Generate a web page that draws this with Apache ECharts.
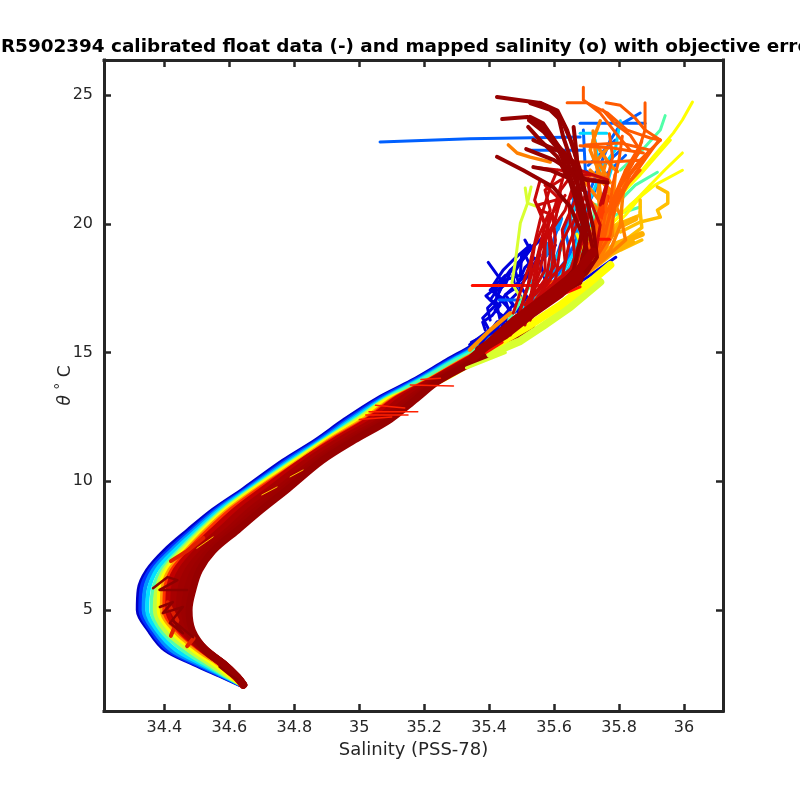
<!DOCTYPE html>
<html>
<head>
<meta charset="utf-8">
<title>R5902394 theta-S</title>
<script src="https://cdn.jsdelivr.net/npm/echarts@6/dist/echarts.min.js"></script>
<style>
  html, body { margin: 0; padding: 0; background: #fff; }
  #main { width: 800px; height: 800px; }
</style>
</head>
<body>
<div id="main"></div>
<script>
// Tick labels
var salTicks = [34.4, 34.6, 34.8, 35, 35.2, 35.4, 35.6, 35.8, 36];
var thetaTicks = [5, 10, 15, 20, 25];

// Lower water column: shared theta levels, one salinity list per profile colour
var thetaLevels = [2.1, 2.4, 2.9, 3.45, 4.2, 5, 5.8, 6.55, 7.3, 8.1, 8.9, 9.7, 10.8, 11.6, 12.4, 13.2, 13.9, 14.7, 15.3, 15.9];
var salNavy = [34.63, 34.578, 34.49, 34.402, 34.352, 34.318, 34.321, 34.347, 34.399, 34.472, 34.55, 34.643, 34.765, 34.866, 34.955, 35.054, 35.161, 35.269, 35.352, 35.415];
var salBlue = [34.632, 34.582, 34.497, 34.41, 34.359, 34.326, 34.329, 34.355, 34.41, 34.482, 34.558, 34.651, 34.774, 34.874, 34.964, 35.062, 35.168, 35.277, 35.362, 35.43];
var salSky = [34.634, 34.586, 34.505, 34.42, 34.368, 34.336, 34.34, 34.365, 34.42, 34.49, 34.565, 34.656, 34.782, 34.881, 34.972, 35.07, 35.175, 35.285, 35.372, 35.44];
var salCyan = [34.636, 34.59, 34.515, 34.435, 34.378, 34.347, 34.352, 34.376, 34.43, 34.499, 34.572, 34.662, 34.79, 34.887, 34.98, 35.076, 35.181, 35.29, 35.38, 35.448];
var salMint = [34.637, 34.594, 34.525, 34.455, 34.39, 34.36, 34.365, 34.39, 34.443, 34.508, 34.58, 34.668, 34.796, 34.892, 34.988, 35.082, 35.187, 35.297, 35.39, 35.46];
var salLime = [34.638, 34.6, 34.54, 34.475, 34.403, 34.372, 34.377, 34.4, 34.452, 34.516, 34.587, 34.674, 34.803, 34.897, 34.996, 35.088, 35.24, 35.36, 35.46, 35.53];
var salYellow = [34.639, 34.606, 34.555, 34.49, 34.42, 34.384, 34.386, 34.408, 34.46, 34.522, 34.592, 34.679, 34.808, 34.902, 35.004, 35.094, 35.25, 35.365, 35.47, 35.55];
var salAmber = [34.64, 34.61, 34.565, 34.5, 34.43, 34.392, 34.394, 34.415, 34.466, 34.527, 34.597, 34.684, 34.814, 34.906, 35.012, 35.1, 35.205, 35.315, 35.4, 35.47];
var salRed = [34.64, 34.614, 34.57, 34.51, 34.44, 34.4, 34.402, 34.423, 34.472, 34.534, 34.604, 34.69, 34.82, 34.912, 35.02, 35.105, 35.21, 35.32, 35.41, 35.48];
var salCrimson = [34.641, 34.62, 34.578, 34.518, 34.45, 34.412, 34.414, 34.435, 34.485, 34.55, 34.62, 34.705, 34.825, 34.925, 35.03, 35.115, 35.218, 35.328, 35.42, 35.49];
var salMaroon1 = [34.642, 34.622, 34.58, 34.524, 34.462, 34.43, 34.432, 34.455, 34.505, 34.575, 34.645, 34.73, 34.845, 34.945, 35.055, 35.135, 35.228, 35.34, 35.432, 35.505];
var salMaroon2 = [34.643, 34.624, 34.582, 34.526, 34.472, 34.448, 34.452, 34.475, 34.525, 34.6, 34.67, 34.755, 34.865, 34.965, 35.075, 35.155, 35.238, 35.35, 35.445, 35.52];
var salMaroon4 = [34.644, 34.625, 34.584, 34.527, 34.48, 34.462, 34.47, 34.492, 34.538, 34.612, 34.685, 34.768, 34.875, 34.975, 35.085, 35.165, 35.242, 35.355, 35.452, 35.528];
var salMaroon3 = [34.644, 34.625, 34.584, 34.527, 34.486, 34.476, 34.488, 34.508, 34.55, 34.625, 34.7, 34.78, 34.885, 34.985, 35.095, 35.175, 35.245, 35.362, 35.46, 35.535];

// Upper water column: [salinity, theta] pairs for each profile, grouped by colour
var navyTails = [
  [[35.34, 15.3], [35.4, 15.87], [35.38, 16.34], [35.42, 16.84], [35.39, 17.2], [35.43, 17.6], [35.465, 18.2], [35.5, 18.6]],
  [[35.397, 18.5], [35.443, 17.7], [35.42, 17.04], [35.434, 16.26], [35.4, 15.7]],
  [[35.434, 15.87], [35.465, 16.65], [35.425, 17.2], [35.45, 17.82], [35.496, 18], [35.5, 18.8], [35.54, 19.2]],
  [[35.45, 15.7], [35.496, 16.45], [35.465, 17.04], [35.496, 17.43], [35.48, 18.2], [35.526, 19], [35.51, 19.37]],
  [[35.372, 15.3], [35.425, 16.2], [35.47, 16.26], [35.45, 17.04], [35.403, 17.43], [35.45, 18]],
  [[35.48, 16.05], [35.51, 16.85], [35.48, 17.6], [35.526, 18.2], [35.557, 18.8]],
  [[35.65, 17.5], [35.711, 18], [35.79, 18.7]],
  [[35.388, 15.87], [35.38, 16.18], [35.41, 16.45], [35.434, 16.84], [35.403, 17.04], [35.425, 17.43], [35.45, 17.63], [35.465, 18.13], [35.51, 18.8]],
  [[35.418, 15.87], [35.45, 16.34], [35.418, 16.65], [35.45, 17.24], [35.48, 17.5], [35.473, 18], [35.496, 18.5], [35.526, 18.98]],
  [[35.434, 16.26], [35.473, 16.84], [35.45, 17.24], [35.49, 17.7], [35.51, 18.3], [35.54, 18.67]],
  [[35.403, 16.26], [35.395, 16.73], [35.425, 17.11], [35.413, 17.63], [35.443, 18.2], [35.48, 18.67], [35.526, 19.17]],
  [[35.48, 16.57], [35.517, 17.15], [35.496, 17.6], [35.533, 18.2], [35.51, 18.8], [35.572, 19.56]],
  [[35.51, 16.18], [35.54, 17.04], [35.572, 17.82], [35.557, 18.5], [35.604, 19.17]],
  [[35.345, 15.4], [35.372, 15.57], [35.418, 15.8], [35.465, 16.18]]
];
var skyTails = [
  [[35.064, 23.18], [35.34, 23.3], [35.68, 23.37]],
  [[35.68, 23.9], [35.88, 23.9]],
  [[35.526, 22.86], [35.69, 22.86]],
  [[35.865, 24.3], [35.804, 23.85], [35.773, 23.25], [35.742, 22.27], [35.711, 21.31], [35.65, 20.34], [35.604, 18.6], [35.557, 17.43], [35.526, 16.65]],
  [[35.69, 23.64], [35.696, 22.08], [35.742, 21.7], [35.711, 20.92], [35.68, 19.76], [35.634, 18.4], [35.57, 17.24]],
  [[35.705, 22.27], [35.788, 23.25]],
  [[35.72, 21.9], [35.805, 22.86]],
  [[35.742, 21.7], [35.82, 22.66]],
  [[35.665, 21.1], [35.634, 19.76], [35.65, 18.8], [35.588, 17.82], [35.572, 17.04]],
  [[35.62, 20.15], [35.588, 19], [35.6, 18.2], [35.54, 17.24]],
  [[35.43, 17.04], [35.496, 17.04]]
];
var skyPatches = [
  [[35.66, 20.1], [35.67, 19.5]],
  [[35.597, 18.6], [35.597, 18.1]],
  [[35.54, 17.3], [35.53, 16.9]],
  [[35.58, 19.2], [35.575, 18.8]],
  [[35.61, 19.8], [35.62, 20.2]],
  [[35.665, 21.3], [35.66, 21]]
];
var cyanTails = [
  [[35.68, 23.52], [35.762, 23.52]],
  [[35.726, 23.25], [35.742, 21.9], [35.696, 20.53], [35.665, 18.98], [35.604, 17.63]],
  [[35.78, 22.27], [35.757, 21.31], [35.711, 19.95], [35.65, 18.4], [35.588, 17.04]],
  [[35.804, 24], [35.788, 22.86], [35.742, 22.08]],
  [[35.526, 17.82], [35.54, 17.43], [35.5, 16.65]],
  [[35.665, 20.73], [35.62, 18.98], [35.57, 18]]
];
var mintTails = [
  [[35.942, 24.2], [35.927, 23.64], [35.865, 22.78], [35.804, 22.08]],
  [[35.918, 22], [35.85, 21.5], [35.804, 20.92], [35.742, 20.38]],
  [[35.865, 20.65], [35.788, 20.34], [35.742, 19.76], [35.711, 19.17]],
  [[35.742, 20.92], [35.73, 20.34], [35.72, 19.56], [35.67, 18.67]],
  [[35.526, 17.6], [35.5, 17.04], [35.46, 16.26]]
];
var mintPatches = [
  [[35.725, 20.7], [35.73, 20.2]]
];
var limeThin = [
  [[35.496, 17.15], [35.47, 17.7], [35.48, 18.48], [35.496, 20.03], [35.518, 20.8], [35.511, 21.39]],
  [[35.529, 21.43], [35.518, 20.8], [35.552, 20.65]],
  [[35.33, 14.4], [35.45, 15]]
];
var limeBody = [
  [[35.403, 14.95], [35.496, 15.45], [35.566, 16.03], [35.65, 16.77], [35.742, 17.74]]
];
var yellowBody = [
  [[35.434, 15.4], [35.526, 16.07], [35.62, 16.84], [35.711, 17.74], [35.773, 18.4]]
];
var yellowTails = [
  [[36.026, 24.73], [35.995, 24.03], [35.967, 23.52], [35.896, 22.47], [35.82, 21.31], [35.742, 19.95], [35.68, 18.98]],
  [[35.995, 22.75], [35.94, 22.08], [35.865, 21.1], [35.773, 19.95], [35.711, 18.98]],
  [[35.995, 22.08], [35.91, 21.5], [35.834, 20.73], [35.757, 19.76], [35.695, 18.8]],
  [[35.958, 23.25], [35.865, 21.9], [35.773, 20.73], [35.711, 19.76]],
  [[35.896, 21.5], [35.82, 20.34], [35.742, 19.37], [35.68, 18.4], [35.604, 17.43], [35.526, 16.65]]
];
var yellowSpecks = [
  [[35.67, 19.6], [35.68, 19.3]],
  [[35.625, 19.4], [35.63, 19]],
  [[35.71, 19.2], [35.715, 18.9]]
];
var amberTails = [
  [[35.918, 21.43], [35.95, 21.2], [35.95, 20.8], [35.918, 20.53], [35.927, 20.26], [35.865, 20.07], [35.804, 19.68]],
  [[35.865, 20.92], [35.865, 20.34], [35.788, 19.95], [35.742, 19.37]],
  [[35.865, 20.45], [35.87, 19.85], [35.82, 19.37], [35.757, 18.98], [35.711, 18.52]],
  [[35.87, 19.37], [35.804, 18.98], [35.757, 18.67]]
];
var amberBody = [
  [[35.87, 19.6], [35.79, 19.2], [35.72, 18.5], [35.64, 17.8], [35.55, 17.1]],
  [[35.85, 20.2], [35.8, 19.9], [35.75, 19.2]],
  [[35.84, 19.3], [35.78, 18.9], [35.72, 18.3], [35.65, 17.65]]
];
var orangeBody = [
  [[35.8, 21.2], [35.77, 20.3], [35.755, 19.4], [35.7, 18.3], [35.6, 17.4]]
];
var orangeEdge = [
  [[35.34, 15.1], [35.403, 15.87], [35.465, 16.53]]
];
var orangeTails = [
  [[35.459, 23.06], [35.486, 22.75], [35.526, 22.59], [35.588, 22.4]],
  [[35.726, 23.45], [35.711, 22.86], [35.742, 21.9], [35.773, 21.1], [35.804, 20.34], [35.82, 19.37], [35.742, 18.5], [35.65, 17.6]],
  [[35.82, 22.08], [35.81, 20.92], [35.804, 19.95], [35.773, 18.98], [35.711, 18.2], [35.62, 17.24]],
  [[35.788, 21.9], [35.78, 20.73], [35.78, 19.56], [35.742, 18.67], [35.665, 17.82]],
  [[35.757, 22.27], [35.735, 21.31], [35.742, 20.34], [35.73, 19.17], [35.68, 18.2], [35.588, 17.24]],
  [[35.69, 21.7], [35.75, 20.73]],
  [[35.696, 21.1], [35.75, 20.34], [35.742, 19.56]],
  [[35.711, 22.08], [35.773, 21.31]],
  [[35.742, 24], [35.72, 23.25], [35.773, 22.27], [35.795, 22.03]],
  [[35.767, 22.98], [35.733, 22.47], [35.773, 21.6]],
  [[35.75, 20.4], [35.74, 21.4], [35.73, 22.4], [35.72, 23.6]]
];
var flameBody = [
  [[35.76, 21], [35.735, 20.1], [35.72, 19.3], [35.66, 18.1], [35.56, 17.2]]
];
var flameTails = [
  [[35.69, 25.3], [35.69, 24.81], [35.742, 24.3], [35.79, 23.52], [35.834, 22.86]],
  [[35.64, 24.7], [35.7, 24.7], [35.765, 24.3], [35.825, 23.64], [35.896, 23.33], [35.927, 23.25]],
  [[35.76, 24.7], [35.804, 24.6], [35.85, 24.1], [35.88, 23.64], [35.927, 23.25]],
  [[35.75, 24.42], [35.79, 23.85], [35.834, 23.45], [35.865, 22.86], [35.82, 21.9], [35.773, 20.53]],
  [[35.88, 24.7], [35.88, 23.64], [35.865, 23.06], [35.82, 22.08], [35.78, 20.92], [35.757, 19.56], [35.711, 18.4]],
  [[35.696, 23.06], [35.804, 23.14], [35.896, 22.86]],
  [[35.62, 22.4], [35.773, 22.4], [35.865, 22.47]],
  [[35.927, 23.25], [35.865, 22.47], [35.804, 21.5], [35.757, 20.34], [35.742, 19.17], [35.68, 18]],
  [[35.896, 22.86], [35.834, 21.9], [35.788, 20.73], [35.773, 19.56], [35.711, 18.3]],
  [[35.865, 22.08], [35.81, 21.31], [35.773, 20.34], [35.735, 18.98], [35.665, 18]],
  [[35.742, 20.15], [35.711, 19.17], [35.65, 18.2], [35.557, 17.43]],
  [[35.68, 23.03], [35.78, 22.94], [35.875, 22.75]],
  [[35.69, 21.9], [35.765, 21.78]],
  [[35.78, 20.6], [35.8, 21.4], [35.84, 22.3], [35.87, 23.2]],
  [[35.79, 20.7], [35.83, 21.6], [35.88, 22.5], [35.92, 23.2]],
  [[35.77, 20.5], [35.78, 21.5], [35.8, 22.5], [35.81, 23.4]],
  [[35.76, 20.5], [35.76, 21.5], [35.78, 22.6], [35.77, 23.5]]
];
var redTails = [
  [[35.348, 17.6], [35.59, 17.6]],
  [[35.72, 19.4], [35.77, 19.4]],
  [[35.39, 15], [35.44, 15.4]],
  [[35.465, 16.07], [35.557, 16.9], [35.68, 17.55]]
];
var crimsonTails = [
  [[35.474, 16.53], [35.526, 18.48], [35.557, 20.15], [35.588, 21.43], [35.61, 22.08]],
  [[35.496, 16.65], [35.54, 18.4], [35.572, 19.56], [35.604, 20.73], [35.634, 22.08], [35.62, 22.86]],
  [[35.51, 16.85], [35.572, 18.2], [35.572, 19.37], [35.634, 20.53], [35.665, 21.7]],
  [[35.526, 17.04], [35.604, 18.4], [35.588, 19.56], [35.62, 20.92], [35.572, 21.5]],
  [[35.54, 17.24], [35.634, 18.5], [35.625, 19.76], [35.665, 20.92], [35.65, 21.9], [35.711, 21.9]],
  [[35.557, 17.24], [35.665, 18.4], [35.655, 19.95], [35.696, 21.1], [35.68, 22.08], [35.765, 21.7], [35.742, 20.73]],
  [[35.496, 16.26], [35.588, 17.8], [35.604, 19.37], [35.595, 20.34], [35.557, 20.53]],
  [[35.73, 19], [35.742, 19.95], [35.711, 20.92]],
  [[35.536, 22.2], [35.62, 22.08], [35.69, 21.8], [35.765, 21.6], [35.75, 20.8]],
  [[35.51, 16.07], [35.54, 17.43], [35.557, 18.98], [35.604, 20.15], [35.62, 21.31], [35.665, 22.08]],
  [[35.526, 16.26], [35.572, 17.63], [35.588, 18.8], [35.58, 20.15], [35.634, 21.1]],
  [[35.54, 16.57], [35.604, 17.82], [35.62, 19.17], [35.65, 19.95], [35.645, 20.92], [35.68, 21.5]],
  [[35.557, 16.84], [35.626, 18], [35.645, 19.17], [35.675, 20.15], [35.665, 21.1]],
  [[35.572, 17.04], [35.65, 18.2], [35.68, 19.37], [35.696, 20.73]],
  [[35.486, 16.26], [35.52, 17.63], [35.54, 19.17], [35.588, 20.53], [35.572, 21.31], [35.62, 21.7]],
  [[35.505, 16.34], [35.557, 18.2], [35.58, 19.76], [35.55, 20.73], [35.604, 20.92]],
  [[35.588, 17.24], [35.67, 18.52], [35.696, 19.76], [35.711, 20.73], [35.705, 21.7]],
  [[35.465, 15.68], [35.526, 17.04], [35.55, 18.8], [35.572, 19.95], [35.54, 20.92], [35.557, 21.7]]
];
var maroonTails = [
  [[35.424, 24.92], [35.557, 24.69], [35.61, 24.34], [35.628, 23.37], [35.66, 22.2], [35.7, 20.15], [35.72, 18.98], [35.68, 17.7], [35.557, 16.92], [35.455, 15.87]],
  [[35.44, 24.07], [35.517, 24.15], [35.557, 23.9], [35.61, 22.98], [35.65, 21.8], [35.68, 20.8], [35.7, 19.5], [35.69, 18.48], [35.62, 17.55], [35.496, 16.26]],
  [[35.424, 22.6], [35.505, 22.08], [35.597, 21.43], [35.65, 20.65], [35.69, 19.5], [35.711, 18.48], [35.658, 17.7], [35.54, 16.65]],
  [[35.557, 24.7], [35.61, 24.4], [35.64, 23.64], [35.68, 22.08], [35.72, 19.88], [35.732, 18.7], [35.7, 18.09], [35.64, 17.43]],
  [[35.52, 23.76], [35.557, 23.25], [35.61, 22.6], [35.65, 21.6], [35.67, 20.8], [35.7, 19.37], [35.68, 18.33], [35.6, 17.43]],
  [[35.66, 23.76], [35.67, 22.6], [35.675, 20.8], [35.69, 19.88], [35.66, 18.2], [35.588, 17.15], [35.486, 16.15]],
  [[35.514, 22.9], [35.6, 22.47], [35.65, 22.08], [35.7, 21.7], [35.765, 21.6]],
  [[35.526, 24.15], [35.566, 23.9], [35.628, 22.75], [35.68, 21.3]],
  [[35.526, 24.69], [35.588, 24.42], [35.626, 23.95], [35.66, 22.98], [35.69, 21.31]],
  [[35.536, 23.25], [35.62, 22.79], [35.66, 22.4]],
  [[35.536, 22.2], [35.588, 22.08], [35.64, 21.8]]
];
var maroonThick = [
  [[35.526, 24.03], [35.57, 23.6], [35.61, 23], [35.67, 22.2]]
];
var trunkTails = [
  [[35.35, 14.8], [35.48, 16.26], [35.59, 17.3], [35.67, 18.1], [35.72, 18.9]],
  [[35.37, 15.1], [35.45, 15.7], [35.53, 16.5], [35.62, 17.3], [35.68, 18]]
];

// Short marks sitting on top of the band
var hotPatches = [
  [[34.42, 4], [34.44, 4.6], [34.41, 5.3]],
  [[34.47, 3.6], [34.49, 3.9]],
  [[34.42, 6.9], [34.47, 7.3], [34.52, 7.8]]
];
var squiggles = [
  [[34.365, 5.85], [34.41, 6.28], [34.44, 6.16], [34.385, 5.78], [34.47, 5.78]],
  [[34.386, 5.12], [34.426, 5.31], [34.395, 4.88], [34.457, 5.12], [34.417, 4.5], [34.457, 4.1], [34.426, 4.6], [34.488, 3.95]],
  [[34.57, 2.8], [34.6, 2.5], [34.625, 2.3]]
];
var hotStreaks = [
  [[35.03, 12.7], [35.18, 12.7]],
  [[35.02, 12.57], [35.15, 12.57]],
  [[35.157, 13.74], [35.29, 13.7]],
  [[35, 12.4], [35.1, 12.5]],
  [[35.05, 12.95], [35.14, 12.85]],
  [[35.19, 13.95], [35.25, 14]]
];
var glints = [
  [[34.7, 9.47], [34.747, 9.78]],
  [[34.787, 10.17], [34.827, 10.44]],
  [[34.5, 7.4], [34.55, 7.84]]
];

/**
 * @name zipLevels
 * @desc pair a salinity list with the shared theta levels
 * @param {array} sal salinity values
 * @return {array} [salinity, theta] pairs
 */
function zipLevels(sal) {
  return sal.map(function (s, i) { return [s, thetaLevels[i]]; });
}

/**
 * @name lineSeries
 * @desc build one plain line series
 * @return {object} series option
 */
function lineSeries(data, color, width, smooth) {
  return {
    type: 'line',
    data: data,
    smooth: smooth || false,
    showSymbol: false,
    symbol: 'none',
    silent: true,
    animation: false,
    lineStyle: { color: color, width: width, cap: 'round', join: 'round' }
  };
}

// Draw order runs blue to dark red, like the float's cycles
var series = [];
[
  [salNavy, '#0000c8', 4], [salBlue, '#0030ff', 4], [salSky, '#0090ff', 4], [salCyan, '#00e0ff', 4],
  [salMint, '#50ffb0', 4], [salLime, '#c0ff40', 5], [salYellow, '#ffff00', 5], [salAmber, '#ffa000', 4],
  [salRed, '#ff3000', 4], [salCrimson, '#c00000', 6], [salMaroon1, '#a80000', 8], [salMaroon2, '#a00000', 8],
  [salMaroon4, '#9c0000', 7], [salMaroon3, '#960000', 7]
].forEach(function (p) {
  series.push(lineSeries(zipLevels(p[0]), p[1], p[2], 0.35));
});

[
  [navyTails, '#0000dc', 3], [skyTails, '#0060ff', 3], [skyPatches, '#0090ff', 5], [cyanTails, '#00d8ff', 3],
  [mintTails, '#50ffa8', 3], [mintPatches, '#60ff90', 6], [limeThin, '#d8ff30', 3], [limeBody, '#d8ff30', 8],
  [yellowBody, '#ffff00', 8], [yellowTails, '#ffff00', 3], [yellowSpecks, '#ffff00', 3], [amberTails, '#ffc000', 3.5],
  [amberBody, '#ffb000', 6], [orangeBody, '#ff7800', 10], [orangeEdge, '#ff9000', 4], [orangeTails, '#ff8000', 3.5],
  [flameBody, '#ff4000', 8], [flameTails, '#ff5a00', 3], [redTails, '#ff1000', 3], [crimsonTails, '#c80808', 3],
  [maroonTails, '#960000', 4], [maroonThick, '#960000', 6], [trunkTails, '#a00000', 9], [hotPatches, '#e02000', 4],
  [squiggles, '#8c0000', 2.5], [hotStreaks, '#ff2000', 1.5], [glints, '#ffc000', 1]
].forEach(function (g) {
  g[0].forEach(function (line) {
    series.push(lineSeries(line, g[1], g[2]));
  });
});

var ink = '#262626';
var frameLine = { show: true, onZero: false, lineStyle: { color: ink, width: 3, cap: 'square' } };

var myChart = echarts.init(document.getElementById('main'), null, { renderer: 'canvas' });

myChart.setOption({
  animation: false,
  backgroundColor: '#ffffff',
  title: {
    text: 'R5902394 calibrated float data (-) and mapped salinity (o) with objective error',
    left: 405,
    top: 33,
    textAlign: 'center',
    textStyle: { fontFamily: 'DejaVu Sans', fontSize: 18.4, fontWeight: 'bold', color: '#000000' }
  },
  grid: { left: 104, right: 77, top: 60, bottom: 89, containLabel: false },
  xAxis: [
    {
      type: 'value',
      min: 34.214,
      max: 36.12,
      position: 'bottom',
      name: 'Salinity (PSS-78)',
      nameLocation: 'middle',
      nameGap: 28,
      nameTextStyle: { fontFamily: 'DejaVu Sans', fontSize: 18, color: ink },
      axisLine: frameLine,
      axisTick: { show: true, inside: true, length: 7, customValues: salTicks, lineStyle: { color: ink, width: 2.5 } },
      axisLabel: {
        show: true,
        customValues: salTicks,
        margin: 9,
        fontFamily: 'DejaVu Sans',
        fontSize: 16,
        color: ink,
        formatter: function (v) { return String(v); }
      },
      splitLine: { show: false }
    },
    {
      type: 'value',
      min: 34.214,
      max: 36.12,
      position: 'top',
      axisLine: frameLine,
      axisTick: { show: true, inside: true, length: 7, customValues: salTicks, lineStyle: { color: ink, width: 2.5 } },
      axisLabel: { show: false },
      splitLine: { show: false }
    }
  ],
  yAxis: [
    {
      type: 'value',
      min: 1.08,
      max: 26.36,
      position: 'left',
      name: '{i|θ} {d|°} C',
      nameLocation: 'middle',
      nameGap: 26,
      nameRotate: 90,
      nameMoveOverlap: false,
      nameTextStyle: {
        fontFamily: 'DejaVu Sans',
        fontSize: 17,
        color: ink,
        rich: {
          i: { fontFamily: 'DejaVu Sans', fontStyle: 'italic', fontSize: 17, color: ink },
          d: { fontFamily: 'DejaVu Sans', fontSize: 14, color: ink, padding: [0, 0, 10, 0] }
        }
      },
      axisLine: frameLine,
      axisTick: { show: true, inside: true, length: 7, customValues: thetaTicks, lineStyle: { color: ink, width: 2.5 } },
      axisLabel: {
        show: true,
        customValues: thetaTicks,
        margin: 11,
        padding: [6, 0, 0, 0],
        fontFamily: 'DejaVu Sans',
        fontSize: 16,
        color: ink,
        formatter: function (v) { return String(v); }
      },
      splitLine: { show: false }
    },
    {
      type: 'value',
      min: 1.08,
      max: 26.36,
      position: 'right',
      axisLine: frameLine,
      axisTick: { show: true, inside: true, length: 7, customValues: thetaTicks, lineStyle: { color: ink, width: 2.5 } },
      axisLabel: { show: false },
      splitLine: { show: false }
    }
  ],
  series: series
});
</script>
</body>
</html>
